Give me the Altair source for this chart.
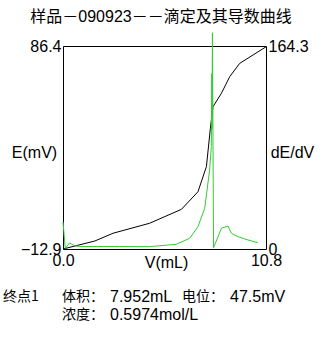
import altair as alt
import pandas as pd

title_text = "样品－090923－－滴定及其导数曲线"

# Titration curve E(mV) vs V(mL)
v_e = [0.0, 1.69, 2.66, 4.61, 6.30, 7.18, 7.63, 7.84, 7.98, 8.43, 8.87, 9.40, 10.11, 10.8]
e_mv = [-12.9, -9.0, -5.2, -0.3, 6.5, 15.1, 27.4, 46.1, 56.7, 63.3, 71.4, 77.9, 82.0, 86.0]

# Derivative curve dE/dV vs V(mL)
v_d = [0.0, 0.12, 0.35, 0.62, 1.0, 3.0, 4.6, 6.03, 6.74, 7.18, 7.54, 7.80, 7.89, 7.92, 7.93,
       7.94, 7.95, 8.01, 8.43, 8.78, 8.96, 9.31, 9.84, 10.37]
d_val = [22.0, 0.5, 5.0, 2.5, 2.0, 2.0, 1.9, 3.8, 8.7, 18.0, 33.0, 64.0, 83.0, 142.0, 97.0,
         142.0, 175.0, 1.0, 16.8, 18.6, 12.7, 10.0, 7.3, 5.1]

x_ticks = [0.0, 10.8]
e_ticks = [-12.9, 86.4]
d_ticks = [0.0, 164.3]

info_line1 = ["终点1", "体积：", "7.952mL", "电位：", "47.5mV"]
info_line2 = ["浓度：", "0.5974mol/L"]

LAT = "Liberation Sans"
CJK = "Noto Sans CJK SC"
GREEN = "#33CC33"

df_e = pd.DataFrame({"V": v_e, "E": e_mv, "i": range(len(v_e))})
df_d = pd.DataFrame({"V": v_d, "D": d_val, "i": range(len(v_d))})

x_enc = alt.X(
    "V:Q",
    scale=alt.Scale(domain=[x_ticks[0], x_ticks[-1]], nice=False, zero=False),
    axis=alt.Axis(
        values=x_ticks, format=".1f", ticks=False, domain=False, grid=False,
        labelFlush=False, labelPadding=3, labelFont=LAT, labelFontSize=16,
        labelColor="black", title="V(mL)", titleFont=LAT, titleFontSize=16,
        titleFontWeight="normal", titleColor="black", titleX=103, titleY=5,
        titleBaseline="top", titleAlign="center",
    ),
)

black = alt.Chart(df_e).mark_line(color="black", strokeWidth=1).encode(
    x=x_enc,
    y=alt.Y(
        "E:Q",
        scale=alt.Scale(domain=e_ticks, nice=False, zero=False),
        axis=alt.Axis(
            values=e_ticks, format=".1f", ticks=False, domain=False, grid=False,
            labelFlush=False, labelPadding=2, labelFont=LAT, labelFontSize=16,
            labelColor="black", title="E(mV)", titleFont=LAT, titleFontSize=16,
            titleFontWeight="normal", titleColor="black", titleAngle=0,
            titleX=-29, titleY=106, titleAlign="center", titleBaseline="middle",
        ),
    ),
    order="i:Q",
)

green = alt.Chart(df_d).mark_line(color=GREEN, strokeWidth=1).encode(
    x=alt.X("V:Q"),
    y=alt.Y(
        "D:Q",
        scale=alt.Scale(domain=d_ticks, nice=False, zero=False),
        axis=alt.Axis(
            orient="right", values=d_ticks, format=".1f",
            labelExpr="datum.value == 0 ? '0' : format(datum.value, '.1f')",
            ticks=False, domain=False, grid=False, labelFlush=False,
            labelPadding=2, labelFont=LAT, labelFontSize=16, labelColor="black",
            title="dE/dV", titleFont=LAT, titleFontSize=16,
            titleFontWeight="normal", titleColor="black", titleAngle=0,
            titleX=26, titleY=106, titleAlign="center", titleBaseline="middle",
        ),
    ),
    order="i:Q",
)

one = pd.DataFrame({"k": [0]})


def txt(s, x, y, font, size, align="left"):
    return alt.Chart(one).mark_text(
        text=s, font=font, fontSize=size, align=align, baseline="middle",
        color="black",
    ).encode(x=alt.value(x), y=alt.value(y))


texts = [
    txt(title_text, 98, -29, f"{LAT}, {CJK}", 16, "center"),
    txt(info_line1[0], -60, 251, CJK, 14),
    txt(info_line1[1], -1, 251, CJK, 14),
    txt(info_line1[2], 47, 251, LAT, 16),
    txt(info_line1[3], 119, 251, CJK, 14),
    txt(info_line1[4], 167, 251, LAT, 16),
    txt(info_line2[0], -1, 269, CJK, 14),
    txt(info_line2[1], 47, 269, LAT, 16),
]

chart = alt.layer(black, green, *texts).resolve_scale(y="independent").properties(
    width=203,
    height=203,
    autosize=alt.AutoSizeParams(type="none"),
    padding={"left": 63, "top": 46, "right": 56, "bottom": 90},
    background="white",
).configure_view(stroke="black", strokeWidth=1)

chart.save("out.html", embed_options={"renderer": "svg", "actions": False})
